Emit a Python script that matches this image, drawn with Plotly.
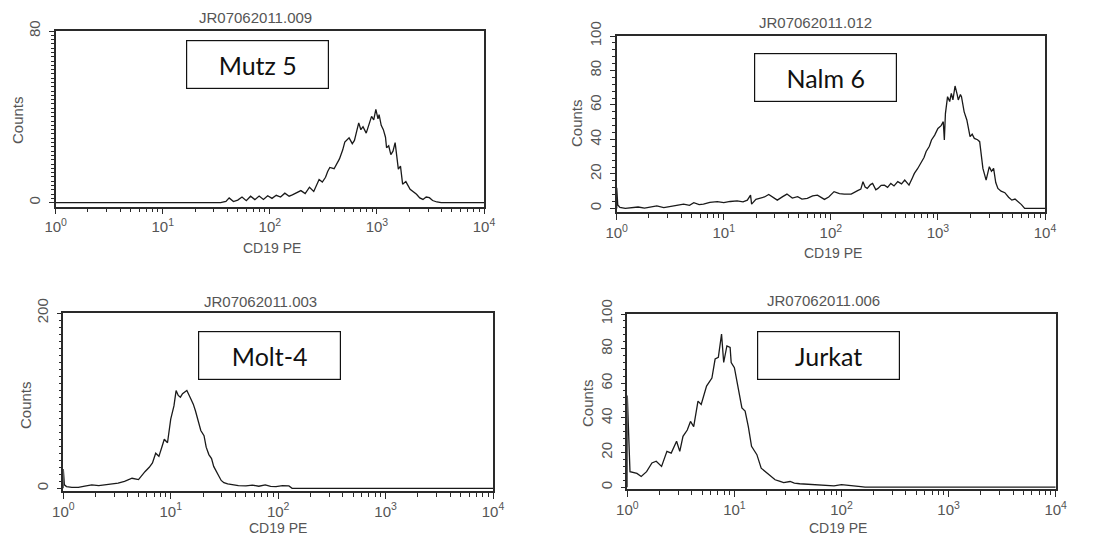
import plotly.graph_objects as go

# ---------------- data (log10 of CD19 PE intensity, counts) ----------------
mutz5_log_pe = [0.0, 1.54, 1.59, 1.62, 1.66, 1.70, 1.74, 1.78, 1.82, 1.86, 1.90, 1.94, 1.98, 2.02,
                2.06, 2.10, 2.14, 2.18, 2.21, 2.25, 2.29, 2.33, 2.37, 2.41, 2.44, 2.46, 2.49,
                2.52, 2.54, 2.56, 2.60, 2.63, 2.65, 2.68, 2.70, 2.74, 2.77, 2.79, 2.81, 2.83,
                2.85, 2.87, 2.90, 2.93, 2.95, 2.97, 2.99, 3.01, 3.02, 3.04, 3.06, 3.08, 3.09,
                3.11, 3.13, 3.15, 3.17, 3.20, 3.22, 3.24, 3.27, 3.31, 3.34, 3.37, 3.40, 3.43,
                3.46, 3.49, 3.52, 3.56, 3.60, 4.0]
mutz5_counts = [0.0, 0.0, 0.6, 2.2, 0.5, 1.2, 2.6, 0.9, 3.0, 1.4, 3.1, 1.5, 3.2, 2.0,
                3.4, 2.6, 4.4, 3.0, 3.6, 4.8, 5.6, 4.2, 7.2, 5.2, 8.8, 10.8, 9.6,
                11.8, 14.5, 16.4, 15.8, 19.0, 20.4, 24.5, 28.2, 30.2, 27.5, 29.0, 33.5, 37.2,
                34.0, 35.4, 32.4, 37.5, 40.2, 38.6, 43.5, 39.0, 41.0, 36.0, 34.0, 30.5, 25.6,
                26.5, 22.4, 24.0, 28.0, 15.6, 17.0, 8.6, 9.8, 6.2, 5.0, 3.9, 2.2, 1.5,
                2.6, 2.3, 1.0, 0.3, 0.0, 0.0]

nalm6_log_pe = [0.0, 0.0, 0.01, 0.03, 0.08, 0.125, 0.2, 0.26, 0.31, 0.375, 0.44, 0.5, 0.56, 0.625,
                0.68, 0.72, 0.77, 0.81, 0.87, 0.94, 1.0, 1.06, 1.125, 1.18, 1.22, 1.25, 1.26,
                1.30, 1.34, 1.38, 1.42, 1.46, 1.50, 1.55, 1.59, 1.64, 1.69, 1.73, 1.78, 1.83,
                1.875, 1.94, 1.98, 2.03, 2.08, 2.125, 2.19, 2.25, 2.28, 2.30, 2.32, 2.34, 2.37,
                2.39, 2.42, 2.44, 2.47, 2.50, 2.53, 2.56, 2.59, 2.625, 2.66, 2.69, 2.71, 2.73,
                2.76, 2.78, 2.81, 2.84, 2.87, 2.89, 2.92, 2.94, 2.97, 3.0, 3.03, 3.05, 3.06,
                3.07, 3.09, 3.11, 3.125, 3.14, 3.16, 3.18, 3.19, 3.21, 3.22, 3.245, 3.27,
                3.30, 3.32, 3.34, 3.37, 3.39, 3.41, 3.42, 3.45, 3.47, 3.48, 3.50, 3.52, 3.54,
                3.56, 3.59, 3.625, 3.66, 3.69, 3.72, 3.75, 3.78, 3.81, 4.0]
nalm6_counts = [0.0, 12.0, 2.0, 0.6, 0.0, 0.3, 0.8, 0.2, 0.6, 1.4, 0.5, 1.0, 1.8, 2.5,
                1.8, 3.3, 2.2, 2.5, 3.5, 3.9, 3.3, 4.0, 4.4, 3.8, 4.8, 7.7, 2.5,
                5.2, 5.8, 6.6, 8.1, 6.2, 4.8, 6.8, 8.3, 6.0, 6.8, 5.4, 5.8, 7.2,
                7.7, 5.2, 6.6, 9.7, 8.6, 8.3, 8.3, 10.3, 11.2, 15.5, 12.4, 11.6, 13.8,
                14.5, 10.8, 11.6, 13.4, 13.5, 12.2, 14.5, 13.0, 15.5, 14.2, 16.4, 14.8, 13.5,
                17.5, 20.3, 23.0, 26.0, 29.5, 33.0, 36.0, 39.7, 42.5, 46.4, 48.0, 50.3, 39.7,
                55.0, 64.8, 62.0, 66.7, 63.0, 71.0, 66.0, 62.9, 66.0, 64.8, 56.0, 51.3,
                41.6, 43.0, 40.6, 39.8, 38.7, 30.0, 23.2, 16.4, 21.0, 24.2, 21.5, 23.2, 15.0,
                11.6, 10.0, 9.1, 6.5, 4.8, 5.4, 3.9, 2.2, 0.0, 0.0]

molt4_log_pe = [0.0, 0.0, 0.01, 0.03, 0.08, 0.14, 0.2, 0.265, 0.33, 0.39, 0.45, 0.51, 0.57, 0.64,
                0.70, 0.73, 0.76, 0.80, 0.83, 0.86, 0.89, 0.92, 0.94, 0.97, 1.0, 1.03, 1.05,
                1.07, 1.09, 1.11, 1.13, 1.15, 1.18, 1.21, 1.23, 1.26, 1.28, 1.31, 1.33, 1.355,
                1.38, 1.40, 1.43, 1.45, 1.47, 1.495, 1.53, 1.57, 1.63, 1.70, 1.76, 1.82, 1.88,
                1.93, 1.98, 2.04, 2.10, 2.13, 4.0]
molt4_counts = [0.0, 22.0, 4.0, 2.0, 1.0, 1.0, 2.5, 4.0, 3.0, 4.0, 5.0, 6.0, 8.0, 11.5,
                10.0, 15.0, 19.0, 24.0, 29.0, 40.0, 36.5, 48.0, 56.0, 52.0, 79.0, 94.0, 111.5,
                106.0, 104.0, 108.0, 110.0, 111.5, 104.0, 96.0, 88.5, 73.0, 66.0, 60.0, 47.0, 38.5,
                34.0, 25.0, 19.0, 13.5, 9.0, 6.5, 5.0, 4.0, 3.2, 2.7, 3.6, 2.4, 4.0,
                2.2, 2.0, 3.0, 2.7, 0.0, 0.0]

jurkat_log_pe = [0.0, 0.0, 0.025, 0.06, 0.09, 0.13, 0.16, 0.18, 0.23, 0.27, 0.32, 0.37, 0.41,
                 0.46, 0.49, 0.52, 0.56, 0.59, 0.62, 0.66, 0.69, 0.72, 0.74, 0.79, 0.82, 0.85,
                 0.88, 0.90, 0.93, 0.96, 0.97, 1.0, 1.02, 1.04, 1.07, 1.10, 1.13, 1.16, 1.21,
                 1.25, 1.29, 1.32, 1.38, 1.42, 1.46, 1.52, 1.56, 1.61, 1.69, 1.77, 1.85, 1.93,
                 2.00, 2.08, 2.18, 2.22, 4.0]
jurkat_counts = [0.0, 53.0, 9.0, 8.4, 8.0, 6.2, 8.2, 9.0, 14.0, 15.0, 12.0, 20.7, 19.7,
                 26.5, 20.7, 29.4, 33.0, 38.0, 35.0, 49.7, 47.8, 55.0, 58.4, 63.0, 74.0, 75.0,
                 88.4, 72.0, 81.6, 80.7, 72.0, 69.0, 62.0, 54.5, 45.8, 44.0, 35.0, 23.6, 18.8,
                 11.0, 9.0, 7.2, 4.3, 3.5, 2.7, 3.3, 2.4, 2.0, 1.6, 1.4, 1.0, 0.8,
                 1.5, 1.2, 0.4, 0.0, 0.0]

panel_titles = ["JR07062011.009", "JR07062011.012", "JR07062011.003", "JR07062011.006"]
cell_lines = ["Mutz 5", "Nalm 6", "Molt-4", "Jurkat"]
x_tick_vals = [1, 10, 100, 1000, 10000]
x_tick_text = ["10<sup>0</sup>", "10<sup>1</sup>", "10<sup>2</sup>", "10<sup>3</sup>", "10<sup>4</sup>"]
x_minor_vals = [m * 10 ** d for d in range(4) for m in range(2, 10)]
y_tick_vals = [[0, 80], [0, 20, 40, 60, 80, 100], [0, 200], [0, 20, 40, 60, 80, 100]]
y_minor_step = [2, 4, 8, 4]
y_ranges = [[-1.8, 80], [-2.1, 100], [-2.7, 200], [-1.2, 100]]
x_label = "CD19 PE"
y_label = "Counts"

# ---------------- layout geometry ----------------
# The page places the figure 8 px from the top-left of the window, so the
# figure is 8 px smaller and all window-pixel positions are shifted by -8.
OFF = 8
W, H = 1101 - OFF, 542 - OFF
# (left, right, top, bottom) of each plot frame, in window pixels
frames = [(55.7, 484.0, 31.0, 206.5),
          (616.7, 1045.0, 36.0, 212.0),
          (63.3, 493.0, 313.0, 490.7),
          (627.3, 1055.7, 314.0, 489.3)]
title_pos = [(255, 17), (815, 23), (260, 301.5), (823, 300.5)]
xlabel_pos = [(272, 248), (833, 253), (278, 528), (838, 528)]
ylabel_pos = [(17, 120), (577, 123), (25, 405), (587, 403)]
box_pos = [(257.5, 64.5), (825.5, 77.5), (269, 355), (828.5, 355)]


def px(x):
    return (x - OFF) / W


def py(y):
    return 1 - (y - OFF) / H


series = [(mutz5_log_pe, mutz5_counts), (nalm6_log_pe, nalm6_counts),
          (molt4_log_pe, molt4_counts), (jurkat_log_pe, jurkat_counts)]

GRAY = "#555555"
FONT = "Liberation Sans, Arial, sans-serif"

fig = go.Figure()
annotations = []
layout = {}
for i, ((lx, cnt), fr) in enumerate(zip(series, frames)):
    n = "" if i == 0 else str(i + 1)
    fig.add_trace(go.Scatter(
        x=[10 ** v for v in lx], y=cnt, mode="lines",
        line=dict(color="#1a1a1a", width=1.3), xaxis="x" + n, yaxis="y" + n,
        showlegend=False, hoverinfo="skip"))
    l, r, t, b = fr
    layout["xaxis" + n] = dict(
        type="log", range=[0, 4], domain=[px(l), px(r)], anchor="y" + n,
        automargin=False,
        showline=True, linecolor="#2a2a2a", linewidth=1.6, mirror=True,
        ticks="outside", ticklen=6, tickwidth=1.3, tickcolor="#2a2a2a",
        tickvals=x_tick_vals, ticktext=x_tick_text, showgrid=False, zeroline=False,
        tickfont=dict(family=FONT, size=15, color=GRAY),
        minor=dict(tickvals=x_minor_vals, ticks="outside", ticklen=4,
                   tickwidth=1.1, tickcolor="#2a2a2a", showgrid=False),
    )
    layout["yaxis" + n] = dict(
        range=y_ranges[i], domain=[py(b), py(t)], anchor="x" + n,
        automargin=False,
        showline=True, linecolor="#2a2a2a", linewidth=1.6, mirror=True,
        ticks="outside", ticklen=5, tickwidth=1.2, tickcolor="#2a2a2a",
        tickvals=y_tick_vals[i], tickangle=-90, showgrid=False, zeroline=False,
        ticklabelstandoff=3,
        tickfont=dict(family=FONT, size=15, color=GRAY),
        minor=dict(dtick=y_minor_step[i], tick0=0, ticks="outside", ticklen=3,
                   tickwidth=1, tickcolor="#2a2a2a", showgrid=False),
    )
    tx, ty = title_pos[i]
    annotations.append(dict(text=panel_titles[i], x=px(tx), y=py(ty), xref="paper",
                            yref="paper", showarrow=False, xanchor="center", yanchor="middle",
                            font=dict(family=FONT, size=15, color=GRAY)))
    xx, xy = xlabel_pos[i]
    annotations.append(dict(text=x_label, x=px(xx), y=py(xy), xref="paper",
                            yref="paper", showarrow=False, xanchor="center", yanchor="middle",
                            font=dict(family=FONT, size=14, color=GRAY)))
    yx, yy = ylabel_pos[i]
    annotations.append(dict(text=y_label, x=px(yx), y=py(yy), xref="paper",
                            yref="paper", showarrow=False, xanchor="center", yanchor="middle",
                            textangle=-90, font=dict(family=FONT, size=15, color=GRAY)))
    bx, by = box_pos[i]
    annotations.append(dict(text=cell_lines[i], x=px(bx), y=py(by), xref="paper",
                            yref="paper", showarrow=False, xanchor="center", yanchor="middle",
                            width=139, height=45, borderpad=1, bordercolor="#111111",
                            borderwidth=1.2, bgcolor="white",
                            font=dict(family="Lato, Carlito, sans-serif", size=25,
                                      color="#111111")))

fig.update_layout(
    width=W, height=H, margin=dict(l=0, r=0, t=0, b=0),
    paper_bgcolor="white", plot_bgcolor="white",
    annotations=annotations, **layout)

fig.write_html("out.html")
